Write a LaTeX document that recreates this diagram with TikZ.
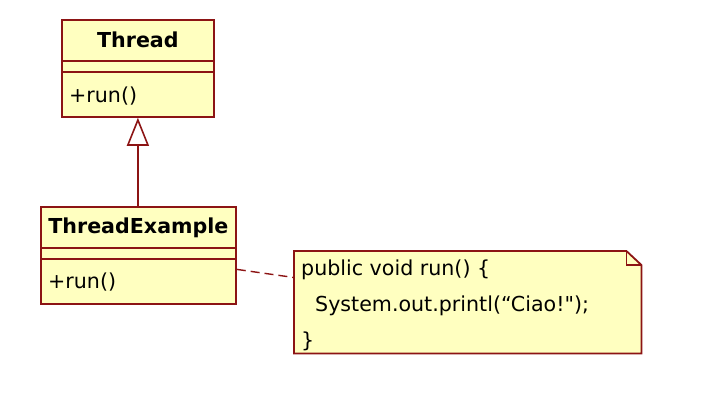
\documentclass[tikz,border=0pt]{standalone}
\usepackage{fontspec}
\setmainfont{DejaVu Sans}
\newfontfamily\notefont{DejaVu Sans}[Ligatures=TeXOff]
\usepackage{tikz}
\usetikzlibrary{arrows.meta}
\usetikzlibrary{calc}
\usetikzlibrary{positioning}
\definecolor{umlfill}{RGB}{255,255,192}
\definecolor{umlline}{RGB}{140,20,20}

\begin{document}
\begin{tikzpicture}[x=1pt, y=-1pt,
    classbox/.style={draw=umlline, fill=umlfill, line width=1.8pt,
      rectangle, inner sep=0pt, minimum height=97pt, anchor=north west},
    classname/.style={font=\fontsize{20.6}{24}\selectfont\bfseries, inner sep=0pt},
    classop/.style={font=\fontsize{20.6}{24}\selectfont, inner sep=0pt, anchor=west},
    sepline/.style={draw=umlline, line width=1.6pt},
    notetext/.style={font=\notefont\fontsize{20.6}{36}\selectfont, inner sep=0pt,
      align=left, anchor=north west}]

    \useasboundingbox (0, 0) rectangle (722, 402);

    % classes
    \node [classbox, minimum width=152pt] (thread) at (61, 19) {};
    \draw [sepline] ($(thread.north west) + (0, 42)$) -- ($(thread.north east) + (0, 42)$);
    \draw [sepline] ($(thread.north west) + (0, 53)$) -- ($(thread.north east) + (0, 53)$);
    \node [classname] (threadname) at ($(thread.north) + (0, 21)$) {Thread};
    \node [classop] (threadrun) at ($(thread.north west) + (8, 77)$) {+run()};

    \node [classbox, minimum width=195pt] (threadex) at (40, 206) {};
    \draw [sepline] ($(threadex.north west) + (0, 42)$) -- ($(threadex.north east) + (0, 42)$);
    \draw [sepline] ($(threadex.north west) + (0, 53)$) -- ($(threadex.north east) + (0, 53)$);
    \node [classname] (threadexname) at ($(threadex.north) + (0, 22)$) {ThreadExample};
    \node [classop] (threadexrun) at ($(threadex.north west) + (8, 76)$) {+run()};

    % note
    \node [minimum width=347pt, minimum height=102pt, inner sep=0pt,
      anchor=north west] (note) at (294, 251) {};
    \filldraw [fill=umlfill, sepline, line width=1.8pt] (note.north west)
      -- ($(note.north east) + (-15, 0)$) -- ($(note.north east) + (0, 14)$)
      -- (note.south east) -- (note.south west) -- cycle;
    \draw [sepline] ($(note.north east) + (-15, 0)$)
      -- ($(note.north east) + (-15, 14)$) -- ($(note.north east) + (0, 14)$);
    \node [notetext] (notecode) at (301, 260) {public void run() \{\\
      \hspace*{14pt}System.out.printl(“Ciao!");\\
      \}};

    % connectors
    \draw [sepline, -{Triangle[open, length=28pt, width=22pt]}]
      (threadex.north -| thread.south) -- (thread.south);
    \draw [sepline, line width=1.4pt, dash pattern=on 9pt off 5pt] (threadex) -- (note);

  \end{tikzpicture}
\end{document}
